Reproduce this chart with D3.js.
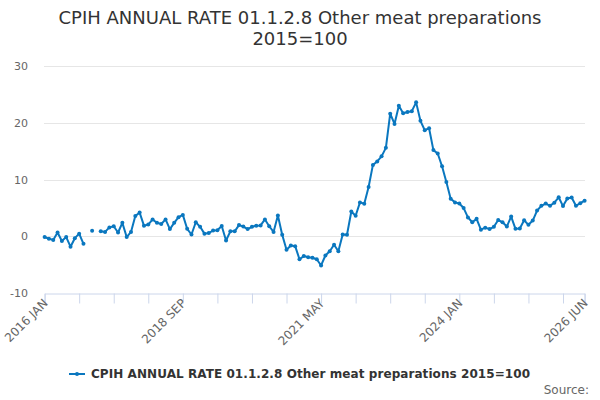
<!DOCTYPE html>
<html lang="en">
<head>
<meta charset="UTF-8">
<title>CPIH ANNUAL RATE 01.1.2.8 Other meat preparations</title>
<style>
  body { margin: 0; padding: 0; background: #fff; }
  svg { display: block; font-family: "DejaVu Sans", sans-serif; }
  .grid line { stroke: #e6e6e6; stroke-width: 1; }
  .ylab { font-size: 11px; fill: #666; }
  .xlab { font-size: 12px; fill: #666; }
</style>
</head>
<body>
<svg id="chart" width="600" height="400"></svg>
<script src="https://cdn.jsdelivr.net/npm/d3@7"></script>
<script>
  const title = ["CPIH ANNUAL RATE 01.1.2.8 Other meat preparations", "2015=100"];
  const seriesName = "CPIH ANNUAL RATE 01.1.2.8 Other meat preparations 2015=100";
  const monthNames = ["JAN","FEB","MAR","APR","MAY","JUN","JUL","AUG","SEP","OCT","NOV","DEC"];
  const startYear = 2016;
  // monthly annual rate, Jan 2016 .. Jun 2026 (null = no value)
  const values = [
    -0.1, -0.4, -0.6, 0.7, -0.8, -0.1, -1.8, -0.3, 0.5, -1.3,
    null, 1.0, null, 0.9, 0.8, 1.6, 1.8, 0.7, 2.4, -0.1,
    0.8, 3.6, 4.2, 1.9, 2.1, 3.0, 2.4, 2.2, 3.0, 1.3,
    2.4, 3.4, 3.8, 1.35, 0.35, 2.5, 1.7, 0.5, 0.6, 1.05,
    1.1, 1.85, -0.7, 0.9, 0.9, 2.0, 1.75, 1.3, 1.7, 1.9,
    1.95, 3.0, 1.8, 0.8, 3.7, 0.3, -2.35, -1.6, -1.7, -4.0,
    -3.45, -3.65, -3.75, -4.0, -5.1, -3.35, -2.6, -1.45, -2.6, 0.35,
    0.3, 4.4, 3.65, 6.0, 5.75, 8.7, 12.6, 13.2, 14.1, 15.6,
    21.6, 19.8, 23.0, 21.7, 21.9, 22.05, 23.6, 20.35, 18.7, 19.05,
    15.2, 14.6, 12.35, 9.6, 6.65, 6.0, 5.8, 5.0, 3.35, 2.5,
    3.1, 1.2, 1.55, 1.3, 1.7, 2.9, 2.5, 1.75, 3.5, 1.35,
    1.4, 2.85, 2.05, 2.8, 4.55, 5.4, 5.8, 5.4, 5.95, 6.9,
    5.35, 6.7, 6.85, 5.4, 5.85, 6.3
  ];
  const yTicks = [-10, 0, 10, 20, 30];
  const labelMonths = [0, 32, 64, 96, 125];

  const monthLabel = i => `${startYear + Math.floor(i / 12)} ${monthNames[i % 12]}`;
  const data = values.map((v, i) => ({ i, v }));

  const svg = d3.select("#chart");
  const color = "#0a77bf";

  const x = d3.scaleLinear().domain([0, values.length - 1]).range([44.6, 584.6]);
  const y = d3.scaleLinear().domain([-10, 30]).range([293.3, 66]);

  // title
  svg.append("g").selectAll("text")
    .data(title)
    .join("text")
      .attr("x", 300)
      .attr("y", (d, k) => 24 + k * 21)
      .attr("text-anchor", "middle")
      .attr("font-size", "18px")
      .attr("fill", "#333")
      .text(d => d);

  // grid
  svg.append("g").attr("class", "grid")
    .selectAll("line")
    .data(yTicks.filter(t => t > -10))
    .join("line")
      .attr("x1", 44).attr("x2", 585)
      .attr("y1", d => Math.round(y(d)) + 0.5)
      .attr("y2", d => Math.round(y(d)) + 0.5);

  svg.append("g").selectAll("text")
    .data(yTicks)
    .join("text")
      .attr("class", "ylab")
      .attr("x", 28)
      .attr("y", d => y(d) + 4)
      .attr("text-anchor", "end")
      .text(d => d);

  // x axis
  const xTickIdx = d3.range(0, values.length, 8).concat([values.length - 1]);
  const xAxis = d3.axisBottom(x)
    .tickValues(xTickIdx)
    .tickSize(10)
    .tickFormat("");
  const gx = svg.append("g")
    .attr("transform", `translate(0,${Math.round(y(-10)) + 0.5})`)
    .call(xAxis);
  gx.select(".domain").attr("stroke", "#ccd6eb");
  gx.selectAll(".tick line").attr("stroke", "#ccd6eb");

  svg.append("g").selectAll("text")
    .data(labelMonths)
    .join("text")
      .attr("class", "xlab")
      .attr("text-anchor", "end")
      .attr("transform", d => `translate(${x(d) + 4},${304}) rotate(-45)`)
      .text(d => monthLabel(d));

  // series
  const line = d3.line()
    .defined(d => d.v !== null)
    .x(d => x(d.i))
    .y(d => y(d.v));

  svg.append("path")
    .datum(data)
    .attr("fill", "none")
    .attr("stroke", color)
    .attr("stroke-width", 2)
    .attr("stroke-linejoin", "round")
    .attr("d", line);

  svg.append("g").selectAll("circle")
    .data(data.filter(d => d.v !== null))
    .join("circle")
      .attr("cx", d => x(d.i))
      .attr("cy", d => y(d.v))
      .attr("r", 2)
      .attr("fill", color);

  // legend
  const lg = svg.append("g").attr("transform", "translate(0,374)");
  lg.append("text")
    .attr("x", 91)
    .attr("y", 4)
    .attr("font-size", "12px")
    .attr("font-weight", "bold")
    .attr("fill", "#333")
    .attr("textLength", 439)
    .text(seriesName);
  lg.append("line")
    .attr("x1", 69).attr("x2", 85)
    .attr("stroke", color).attr("stroke-width", 2);
  lg.append("circle").attr("cx", 77).attr("r", 2).attr("fill", color);

  svg.append("text")
    .attr("x", 589)
    .attr("y", 394)
    .attr("text-anchor", "end")
    .attr("font-size", "12px")
    .attr("fill", "#666")
    .text("Source:");
</script>
</body>
</html>
